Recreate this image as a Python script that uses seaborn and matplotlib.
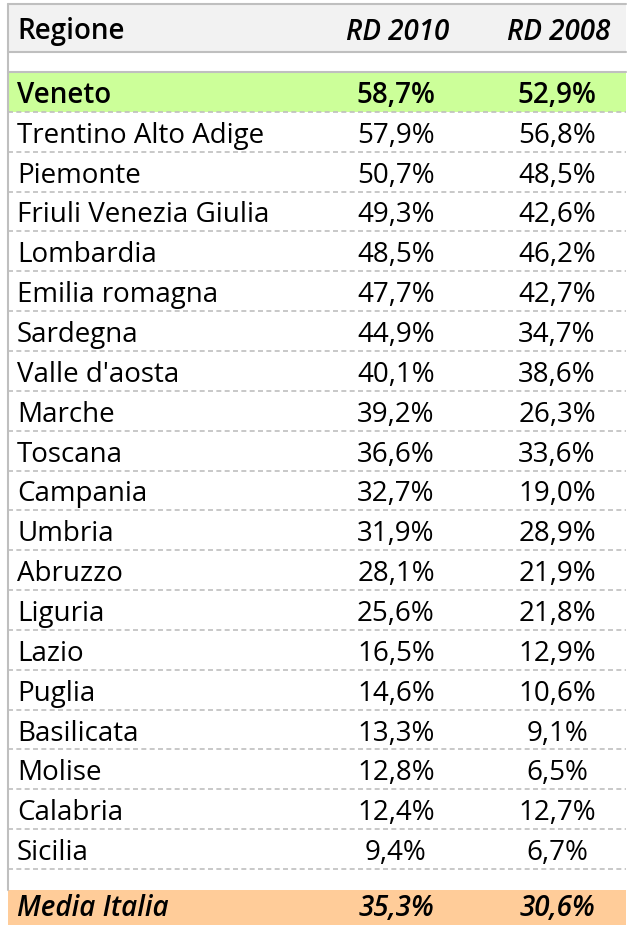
import matplotlib.pyplot as plt
import seaborn as sns

# dati della tabella
regioni = ["Veneto", "Trentino Alto Adige", "Piemonte", "Friuli Venezia Giulia",
           "Lombardia", "Emilia romagna", "Sardegna", "Valle d'aosta", "Marche",
           "Toscana", "Campania", "Umbria", "Abruzzo", "Liguria", "Lazio",
           "Puglia", "Basilicata", "Molise", "Calabria", "Sicilia"]
rd_2010 = [58.7, 57.9, 50.7, 49.3, 48.5, 47.7, 44.9, 40.1, 39.2, 36.6,
           32.7, 31.9, 28.1, 25.6, 16.5, 14.6, 13.3, 12.8, 12.4, 9.4]
rd_2008 = [52.9, 56.8, 48.5, 42.6, 46.2, 42.7, 34.7, 38.6, 26.3, 33.6,
           19.0, 28.9, 21.9, 21.8, 12.9, 10.6, 9.1, 6.5, 12.7, 6.7]
intestazioni = ["Regione", "RD 2010", "RD 2008"]
media_label = "Media Italia"
media_2010 = 35.3
media_2008 = 30.6

sns.set_theme(style="white")
plt.rcParams['font.family'] = ['Open Sans', 'DejaVu Sans']
plt.rcParams['text.color'] = 'black'


def pct(v):
    return f"{v:.1f}%".replace(".", ",")


W, H = 627, 925
fig = plt.figure(figsize=(W / 100, H / 100), dpi=100)
ax = fig.add_axes([0, 0, 1, 1])
ax.set_xlim(0, W)
ax.set_ylim(H, 0)
ax.axis("off")

# layout (pixel)
x0, x1 = 7.5, 626
top, head_h, gap1 = 4, 48, 20
row_h = 39.85
gap2 = 21
col_x = [17, 396, 557]
fs = 20
dy = 4  # spostamento verticale del testo
grid = "#bfbfbf"
bw = "semibold"

# intestazione
ax.add_patch(plt.Rectangle((x0, top), x1 - x0, head_h, color="#f2f2f2", lw=0))
ax.text(col_x[0], top + head_h / 2 + dy, intestazioni[0], fontsize=fs, fontweight=bw,
        va="center", ha="left")
for xc, t in zip(col_x[1:], intestazioni[1:]):
    ax.text(xc + 2, top + head_h / 2 + dy, t, fontsize=fs, fontweight=bw, style="italic",
            va="center", ha="center")
ax.plot([x0, x1], [top, top], color=grid, lw=1.5)
ax.plot([x0, x1], [top + head_h, top + head_h], color=grid, lw=1.5)
y_start = top + head_h + gap1
ax.plot([x0, x1], [y_start, y_start], color=grid, lw=1.5)

# righe
for i, (r, a, b) in enumerate(zip(regioni, rd_2010, rd_2008)):
    y = y_start + i * row_h
    yc = y + row_h / 2 + dy
    weight = "normal"
    if i == 0:
        ax.add_patch(plt.Rectangle((x0, y), x1 - x0, row_h, color="#ccff99", lw=0))
        weight = bw
    ax.text(col_x[0], yc, r, fontsize=fs, fontweight=weight, va="center", ha="left")
    ax.text(col_x[1], yc, pct(a), fontsize=fs, fontweight=weight, va="center", ha="center")
    ax.text(col_x[2], yc, pct(b), fontsize=fs, fontweight=weight, va="center", ha="center")
    ax.plot([x0, x1], [y + row_h, y + row_h], color=grid, lw=1.2, ls=(0, (3, 2)))

# media (riga tagliata in basso come nell'originale)
y_m = y_start + len(regioni) * row_h + gap2
ax.add_patch(plt.Rectangle((x0, y_m), x1 - x0, row_h, color="#ffcc99", lw=0))
ym_c = y_m + row_h / 2 - 1
ax.text(col_x[0], ym_c, media_label, fontsize=fs, fontweight=bw, style="italic",
        va="center", ha="left")
ax.text(col_x[1], ym_c, pct(media_2010), fontsize=fs, fontweight=bw, style="italic",
        va="center", ha="center")
ax.text(col_x[2], ym_c, pct(media_2008), fontsize=fs, fontweight=bw, style="italic",
        va="center", ha="center")

# bordo sinistro
ax.plot([x0, x0], [top, y_m], color=grid, lw=1.5)

fig.savefig("out.png", dpi=100)
